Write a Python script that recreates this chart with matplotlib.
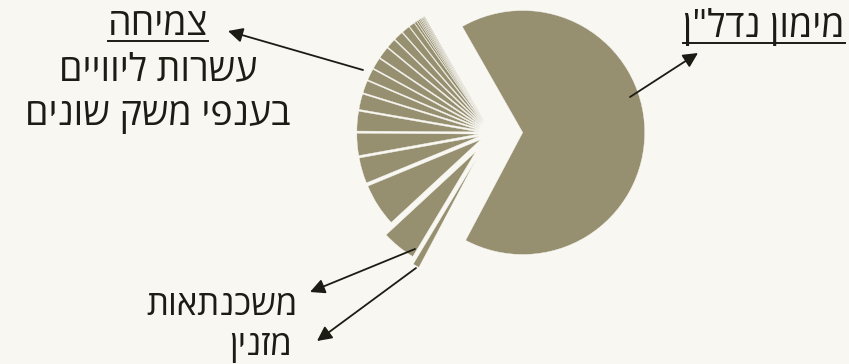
import matplotlib
matplotlib.use("Agg")
import matplotlib.pyplot as plt
import numpy as np

W, H = 849, 364
BG = '#f8f7f2'
SLICE = '#968f70'
INK = '#1c1b14'

# share of each wedge (%), counterclockwise starting with the big one
shares = [66.0,
          0.11, 0.11, 0.14, 0.14, 0.17, 0.19, 0.25, 0.31,
          0.75, 1.08, 1.25, 1.25, 1.58, 1.47, 1.53, 1.64,
          2.06, 2.61, 2.94, 3.39, 5.67,
          4.5, 0.86]
explode_frac = [0.26] + [0.1] * 21 + [0.2, 0.25]

label_main = 'מימון נדל"ן'
label_growth = ['צמיחה', 'עשרות ליוויים', 'בענפי משק שונים']
label_mortgage = 'משכנתאות'
label_mezz = 'מזנין'


def heb(s):
    # matplotlib draws left-to-right, so flip the hebrew strings
    return s[::-1]


def py(y):
    # image rows -> data y
    return H - y


plt.rcParams['font.family'] = ['Open Sans', 'DejaVu Sans']

fig = plt.figure(figsize=(W / 100, H / 100), dpi=100, facecolor=BG)
ax = fig.add_axes([0, 0, 1, 1])
ax.set_facecolor(BG)

R = 122
center = (491, py(133))
ax.pie(shares, radius=R, center=center, startangle=-117.9,
       explode=[f * R for f in explode_frac], colors=[SLICE] * len(shares),
       wedgeprops=dict(edgecolor=BG, linewidth=0.3), frame=True)

ax.set_xlim(0, W)
ax.set_ylim(0, H)
ax.set_aspect('equal')
ax.axis('off')

fs = 27
fs_low = 25
arrow = dict(arrowstyle='-|>', mutation_scale=22, lw=1.3, color=INK, shrinkA=0, shrinkB=0)

ax.annotate('', xy=(698, py(53)), xytext=(630, py(97)), arrowprops=arrow)
ax.annotate('', xy=(228, py(31)), xytext=(363, py(70)), arrowprops=arrow)
ax.annotate('', xy=(310, py(292)), xytext=(415, py(249)), arrowprops=arrow)
ax.annotate('', xy=(317, py(341)), xytext=(416, py(268)), arrowprops=arrow)

underlined = []
t = ax.text(764, py(37), heb(label_main), fontsize=fs, color=INK, ha='center', va='baseline')
underlined.append(t)
for i, s in enumerate(label_growth):
    t = ax.text(158, py(35 + i * 45), heb(s), fontsize=fs, color=INK, ha='center', va='baseline')
    if i == 0:
        underlined.append(t)
ax.text(222, py(315), heb(label_mortgage), fontsize=fs_low, color=INK, ha='center', va='baseline')
ax.text(261, py(355), heb(label_mezz), fontsize=fs_low, color=INK, ha='center', va='baseline')

fig.canvas.draw()
for t in underlined:
    bb = t.get_window_extent()
    x0, x1 = bb.x0, bb.x1
    ax.plot([x0, x1], [t.get_position()[1] - 6] * 2, color=INK, lw=1.4)

fig.savefig('out.png', dpi=100, facecolor=BG)
